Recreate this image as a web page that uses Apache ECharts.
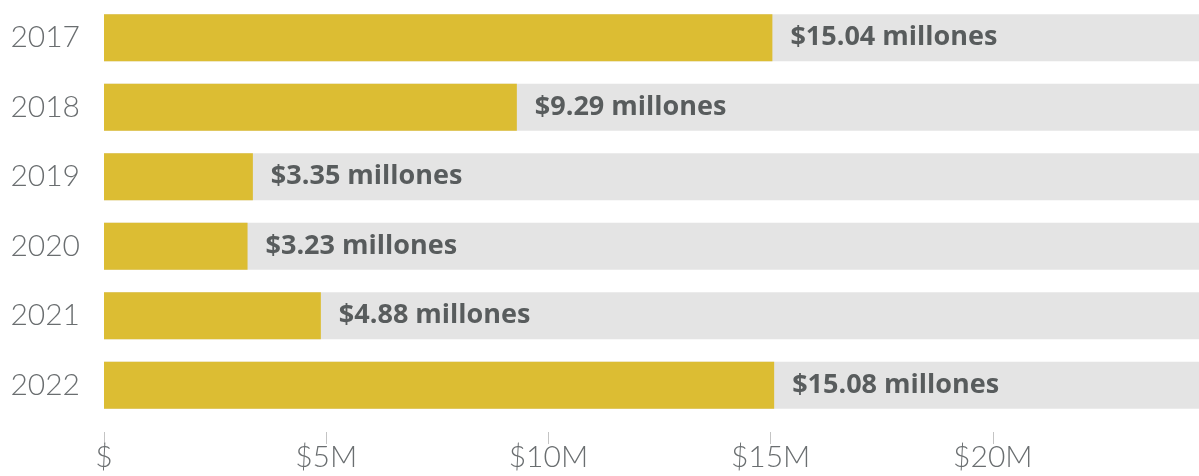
<!DOCTYPE html>
<html>
<head>
<meta charset="utf-8">
<script src="https://cdn.jsdelivr.net/npm/echarts@6/dist/echarts.min.js"></script>
<style>
  html, body { margin: 0; padding: 0; background: #ffffff; }
  #chart { width: 1199px; height: 476px; }
</style>
</head>
<body>
<div id="chart"></div>
<script>
// Annual amounts, in millions of dollars
const years = ['2017', '2018', '2019', '2020', '2021', '2022'];
const amounts = [15.04, 9.29, 3.35, 3.23, 4.88, 15.08];
const tickStep = 5;
const axisMax = 24.64;

const chart = echarts.init(document.getElementById('chart'), null, { renderer: 'canvas' });

chart.setOption({
  animation: false,
  grid: { left: 104, right: 0, top: 3, bottom: 56, containLabel: false },
  xAxis: {
    type: 'value',
    min: 0,
    max: axisMax,
    interval: tickStep,
    offset: 12,
    splitLine: { show: false },
    axisLine: { show: false },
    axisTick: { show: true, length: 12, lineStyle: { color: '#c4c4c4', width: 1 } },
    axisLabel: {
      margin: 10,
      showMaxLabel: false,
      color: '#6a6e70',
      fontFamily: 'Lato, "Open Sans", sans-serif',
      fontWeight: 300,
      fontSize: 30,
      formatter: v => (v % tickStep !== 0 ? '' : (v === 0 ? '$' : '$' + v + 'M'))
    }
  },
  yAxis: {
    type: 'category',
    data: years,
    inverse: true,
    axisLine: { show: false },
    axisTick: { show: false },
    axisLabel: {
      margin: 24,
      color: '#6a6e70',
      fontFamily: 'Lato, "Open Sans", sans-serif',
      fontWeight: 300,
      fontSize: 30
    }
  },
  series: [{
    type: 'bar',
    data: amounts,
    barWidth: 47,
    itemStyle: { color: '#dcbd33' },
    showBackground: true,
    backgroundStyle: { color: '#e4e4e4' },
    label: {
      show: true,
      position: 'right',
      distance: 18,
      color: '#585c5d',
      fontFamily: '"Open Sans", Lato, sans-serif',
      fontWeight: 700,
      fontSize: 27,
      formatter: p => '$' + p.value.toFixed(2) + ' millones'
    }
  }]
});
</script>
</body>
</html>
